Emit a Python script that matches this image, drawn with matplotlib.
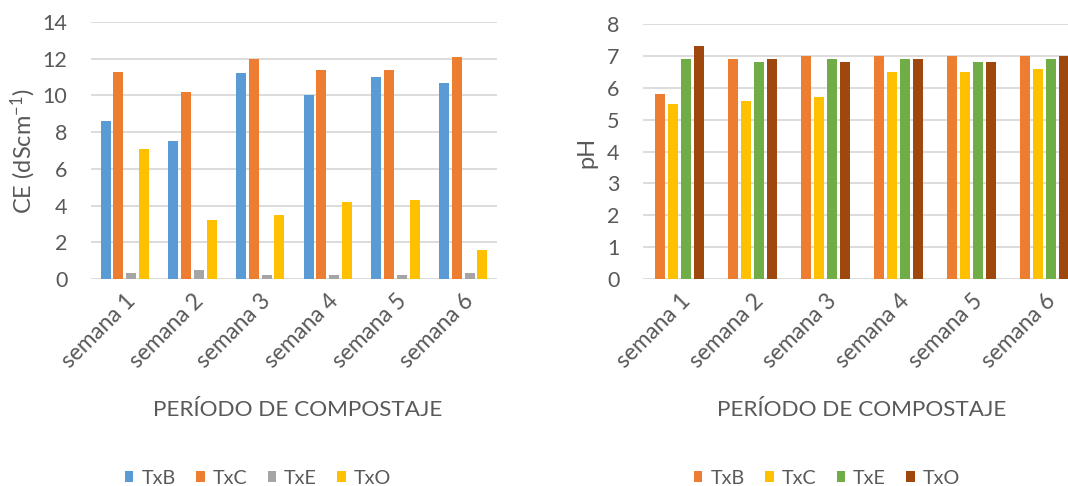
import numpy as np
import matplotlib
matplotlib.use("Agg")
import matplotlib.pyplot as plt

plt.rcParams['font.family'] = ['Lato', 'DejaVu Sans']
plt.rcParams['mathtext.fontset'] = 'custom'
plt.rcParams['mathtext.rm'] = 'Lato'
plt.rcParams['mathtext.default'] = 'regular'

# data
weeks = ["semana 1", "semana 2", "semana 3", "semana 4", "semana 5", "semana 6"]
series = ["TxB", "TxC", "TxE", "TxO"]

ce_txb = [8.6, 7.5, 11.2, 10.0, 11.0, 10.7]
ce_txc = [11.3, 10.2, 12.0, 11.4, 11.4, 12.1]
ce_txe = [0.3, 0.5, 0.2, 0.2, 0.2, 0.3]
ce_txo = [7.1, 3.2, 3.5, 4.2, 4.3, 1.6]

ph_txb = [5.8, 6.9, 7.0, 7.0, 7.0, 7.0]
ph_txc = [5.5, 5.6, 5.7, 6.5, 6.5, 6.6]
ph_txe = [6.9, 6.8, 6.9, 6.9, 6.8, 6.9]
ph_txo = [7.3, 6.9, 6.8, 6.9, 6.8, 7.0]

ce_colors = ["#5B9BD5", "#ED7D31", "#A5A5A5", "#FFC000"]
ph_colors = ["#ED7D31", "#FFC000", "#70AD47", "#9E480E"]

TXT = "#595959"
GRID = "#D9D9D9"
W, H = 1068, 486

fig = plt.figure(figsize=(W / 100, H / 100), dpi=100)


def px_axes(x0, x1, ytop, ybot):
    return fig.add_axes([x0 / W, (H - ybot) / H, (x1 - x0) / W, (ybot - ytop) / H])


def draw(ax, data, colors, ymax, step, step_frac, width_frac, leg_x):
    x = np.arange(len(weeks))
    n = len(data)
    for i, (vals, c) in enumerate(zip(data, colors)):
        off = (i - (n - 1) / 2) * step_frac
        ax.bar(x + off, vals, width=width_frac, color=c, label=series[i], zorder=3)
    ax.set_xlim(-0.5, len(weeks) - 0.5)
    ax.set_ylim(0, ymax)
    ax.set_yticks(np.arange(0, ymax + 0.01, step))
    ax.yaxis.grid(True, color=GRID, linewidth=1.3, zorder=0)
    for s in ax.spines.values():
        s.set_visible(False)
    ax.tick_params(axis='both', length=0, colors=TXT, labelsize=15.5)
    ax.tick_params(axis='y', pad=17)
    ax.set_xticks(x)
    ax.set_xticklabels(weeks, rotation=45, ha='right', va='top',
                       rotation_mode='anchor', fontsize=16.3)
    ax.tick_params(axis='x', pad=8)
    ax.legend(loc='center', ncol=4, frameon=False, fontsize=14.2,
              handlelength=0.42, handleheight=0.42, handletextpad=0.4,
              columnspacing=1.05, labelcolor=TXT,
              bbox_to_anchor=(leg_x / W, (H - 478) / H),
              bbox_transform=fig.transFigure)


ax1 = px_axes(91, 497, 22, 279)
draw(ax1, [ce_txb, ce_txc, ce_txe, ce_txo], ce_colors, 14, 2, 0.188, 0.148, 258)

ax2 = px_axes(643, 1081, 24, 279)
draw(ax2, [ph_txb, ph_txc, ph_txe, ph_txo], ph_colors, 8, 1, 0.178, 0.137, 827)

fig.text(23 / W, (H - 151) / H, "CE (dScm$^{-1}$)", rotation=90, ha='center',
         va='center', color=TXT, fontsize=17)
fig.text(587 / W, (H - 152) / H, "pH", rotation=90, ha='center',
         va='center', color=TXT, fontsize=17)
fig.text(298 / W, (H - 410) / H, "PERÍODO DE COMPOSTAJE", ha='center',
         va='center', color=TXT, fontsize=16.2)
fig.text(862 / W, (H - 410) / H, "PERÍODO DE COMPOSTAJE", ha='center',
         va='center', color=TXT, fontsize=16.2)

fig.savefig("out.png", dpi=100)
